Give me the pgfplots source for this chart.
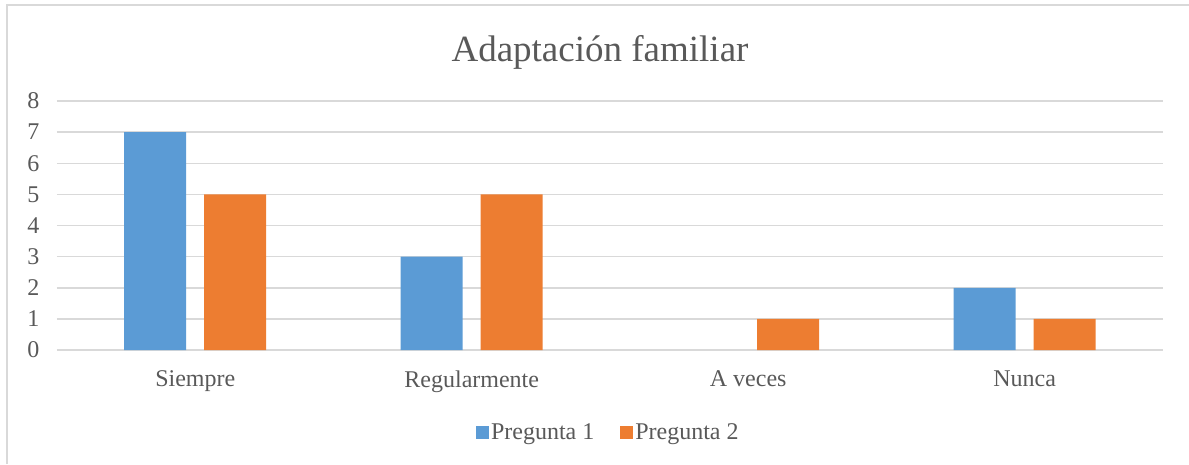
\documentclass[border=0pt]{standalone}
\usepackage{pgfplots}
\pgfplotsset{compat=1.18}
\usepackage{fontspec}
\setmainfont{Liberation Serif}
\definecolor{cblue}{HTML}{5B9BD5}
\definecolor{corange}{HTML}{ED7D31}
\definecolor{cgrid}{HTML}{D9D9D9}
\definecolor{ctext}{HTML}{595959}
\begin{document}
\begin{tikzpicture}[x=1pt,y=1pt]
\useasboundingbox (0,0) rectangle (1189,464);
\draw[cgrid, line width=1.5pt] (7,0) -- (7,459) -- (1189,459);
\node[text=ctext, font=\fontsize{37}{44}\selectfont] at (600,412) {Adaptación familiar};
\begin{axis}[
  at={(57pt,114pt)}, anchor=south west,
  scale only axis, width=1106pt, height=249pt,
  xmin=-0.5, xmax=3.5, ymin=0, ymax=8,
  ytick={0,1,...,8},
  xtick={0,1,2,3},
  xticklabels={Siempre,Regularmente,A veces,Nunca},
  /pgf/number format/assume math mode=true,
  ymajorgrids, grid style={cgrid, line width=1.5pt},
  axis line style={draw=none},
  major tick length=0pt,
  tick label style={text=ctext, font=\fontsize{24}{28}\selectfont},
  yticklabel style={anchor=east, xshift=-14pt},
  xticklabel style={yshift=-17pt},
  ybar, bar width=62pt,
  legend style={at={(0.4985,-0.33)}, anchor=center, draw=none, legend columns=2,
    font=\fontsize{24}{28}\selectfont, text=ctext,
    /tikz/every even column/.append style={column sep=24pt}},
  legend image code/.code={\fill[#1] (0pt,-6.5pt) rectangle (13pt,6.5pt);},
]
\addplot[fill=cblue, draw=none, bar shift=-40pt] coordinates {(0,7) (1,3) (3,2)};
\addlegendentry{Pregunta 1}
\addplot[fill=corange, draw=none, bar shift=40pt] coordinates {(0,5) (1,5) (2,1) (3,1)};
\addlegendentry{Pregunta 2}
\end{axis}
\end{tikzpicture}
\end{document}
